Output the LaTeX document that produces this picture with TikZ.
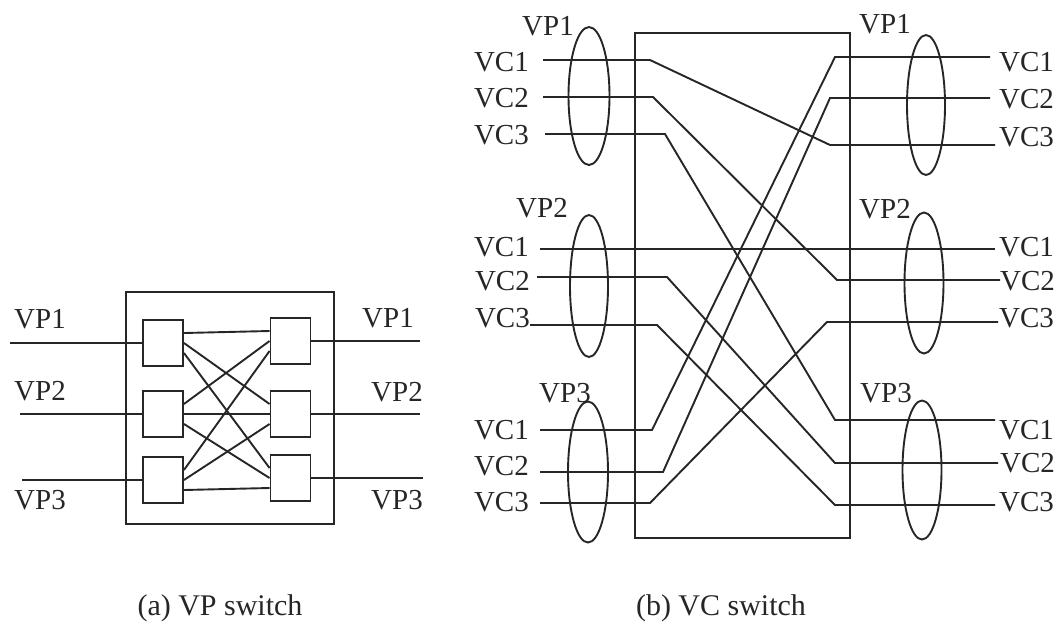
\documentclass[tikz,border=0pt]{standalone}
\usepackage{fontspec}
\setmainfont{Liberation Serif}
\usetikzlibrary{shapes.geometric}
\begin{document}
\begin{tikzpicture}[x=1pt,y=-1pt,
  ln/.style={line width=1.9pt,black!85},
  box/.style={draw,line width=1.9pt,black!85,inner sep=0pt},
  swbox/.style={box,minimum width=40pt,minimum height=46pt},
  vpe/.style={ellipse,draw,line width=1.9pt,black!85,inner sep=0pt,minimum width=39pt,minimum height=140pt},
  lbl/.style={inner sep=0pt,font=\fontsize{29}{30}\selectfont,text=black!85}]
\useasboundingbox (0,0) rectangle (1062,627);

% ---------------- (a) VP switch ----------------
\node[box,minimum width=208pt,minimum height=232pt] (outer) at (230,408) {};
\node[swbox] (L1) at (163,343) {};
\node[swbox] (L2) at (163,414) {};
\node[swbox] (L3) at (163,480) {};
\node[swbox] (R1) at (290.5,341) {};
\node[swbox] (R2) at (290.5,414) {};
\node[swbox] (R3) at (290.5,478) {};

\coordinate (i1) at (10,343);
\coordinate (i2) at (20,414);
\coordinate (i3) at (22,480);
\coordinate (o1) at (420,341);
\coordinate (o2) at (420,414);
\coordinate (o3) at (423,478);
\draw[ln] (i1) -- (L1.west);
\draw[ln] (i2) -- (L2.west);
\draw[ln] (i3) -- (L3.west);
\draw[ln] (R1.east) -- (o1);
\draw[ln] (R2.east) -- (o2);
\draw[ln] (R3.east) -- (o3);

\foreach \i/\si in {1/10,2/0,3/-10}{
  \foreach \j/\sj in {1/10,2/0,3/-10}{
    \draw[ln] ([yshift=\sj pt]L\i.east) -- ([yshift=\si pt]R\j.west);
  }
}

\node[lbl] (aL1) at (40,319) {VP1};
\node[lbl] (aL2) at (40,391) {VP2};
\node[lbl] (aL3) at (40,500) {VP3};
\node[lbl] (aR1) at (388,318) {VP1};
\node[lbl] (aR2) at (397,392) {VP2};
\node[lbl] (aR3) at (397,500) {VP3};

\node[lbl,font=\fontsize{30}{31}\selectfont] (capa) at (220,608) {(a) VP switch};
\node[lbl,font=\fontsize{30}{31}\selectfont] (capb) at (721,608) {(b) VC switch};

% ---------------- (b) VC switch ----------------
\node[box,minimum width=215pt,minimum height=505pt] (sw) at (742.5,285.5) {};

\node[vpe,minimum width=41pt,minimum height=138pt] (eL1) at (589,96) {};
\node[vpe,minimum width=38pt,minimum height=142pt] (eL2) at (589,286) {};
\node[vpe,minimum width=40pt,minimum height=141pt] (eL3) at (588,472) {};
\node[vpe,minimum width=38pt,minimum height=140pt] (eR1) at (926,105) {};
\node[vpe,minimum width=39pt,minimum height=141pt] (eR2) at (924,283) {};
\node[vpe,minimum width=39pt,minimum height=139pt] (eR3) at (922,470) {};

% left free ends and bends
\coordinate (s11) at (543,60);  \coordinate (b11) at (650,60);
\coordinate (s12) at (543,97);  \coordinate (b12) at (653,97);
\coordinate (s13) at (545,134); \coordinate (b13) at (665,134);
\coordinate (s21) at (540,249);
\coordinate (s22) at (537,277); \coordinate (b22) at (667,277);
\coordinate (s23) at (530,325); \coordinate (b23) at (657,325);
\coordinate (s31) at (540,430); \coordinate (b31) at (652,430);
\coordinate (s32) at (540,472); \coordinate (b32) at (663,472);
\coordinate (s33) at (540,503); \coordinate (b33) at (650,503);
% right free ends and bends
\coordinate (t11) at (990,57);  \coordinate (c11) at (835,57);
\coordinate (t12) at (990,98);  \coordinate (c12) at (830,98);
\coordinate (t13) at (995,145); \coordinate (c13) at (830,145);
\coordinate (t21) at (995,249);
\coordinate (t22) at (1000,280); \coordinate (c22) at (837,280);
\coordinate (t23) at (998,322); \coordinate (c23) at (827,322);
\coordinate (t31) at (995,420); \coordinate (c31) at (835,420);
\coordinate (t32) at (998,463); \coordinate (c32) at (835,463);
\coordinate (t33) at (995,505); \coordinate (c33) at (835,505);

\draw[ln] (s11) -- (b11) -- (c13) -- (t13);
\draw[ln] (s12) -- (b12) -- (c22) -- (t22);
\draw[ln] (s13) -- (b13) -- (c31) -- (t31);
\draw[ln] (s21) -- (t21);
\draw[ln] (s22) -- (b22) -- (c32) -- (t32);
\draw[ln] (s23) -- (b23) -- (c33) -- (t33);
\draw[ln] (s31) -- (b31) -- (c11) -- (t11);
\draw[ln] (s32) -- (b32) -- (c12) -- (t12);
\draw[ln] (s33) -- (b33) -- (c23) -- (t23);

% labels
\node[lbl] (vpL1) at (548,26) {VP1};
\node[lbl] (vpL2) at (542,208) {VP2};
\node[lbl] (vpL3) at (565,393) {VP3};
\node[lbl] (vpR1) at (885,24) {VP1};
\node[lbl] (vpR2) at (885,209) {VP2};
\node[lbl] (vpR3) at (886,393) {VP3};

\node[lbl,anchor=east] (l11) at (529,62) {VC1};
\node[lbl,anchor=east] (l12) at (529,98) {VC2};
\node[lbl,anchor=east] (l13) at (529,135) {VC3};
\node[lbl,anchor=east] (l21) at (529,247) {VC1};
\node[lbl,anchor=east] (l22) at (530,281) {VC2};
\node[lbl,anchor=east] (l23) at (530,318) {VC3};
\node[lbl,anchor=east] (l31) at (529,430) {VC1};
\node[lbl,anchor=east] (l32) at (529,466) {VC2};
\node[lbl,anchor=east] (l33) at (529,502) {VC3};

\node[lbl,anchor=west] (r11) at (999,62) {VC1};
\node[lbl,anchor=west] (r12) at (999,99) {VC2};
\node[lbl,anchor=west] (r13) at (999,137) {VC3};
\node[lbl,anchor=west] (r21) at (999,247) {VC1};
\node[lbl,anchor=west] (r22) at (1000,281) {VC2};
\node[lbl,anchor=west] (r23) at (999,318) {VC3};
\node[lbl,anchor=west] (r31) at (999,430) {VC1};
\node[lbl,anchor=west] (r32) at (1000,463) {VC2};
\node[lbl,anchor=west] (r33) at (999,502) {VC3};
\end{tikzpicture}
\end{document}
